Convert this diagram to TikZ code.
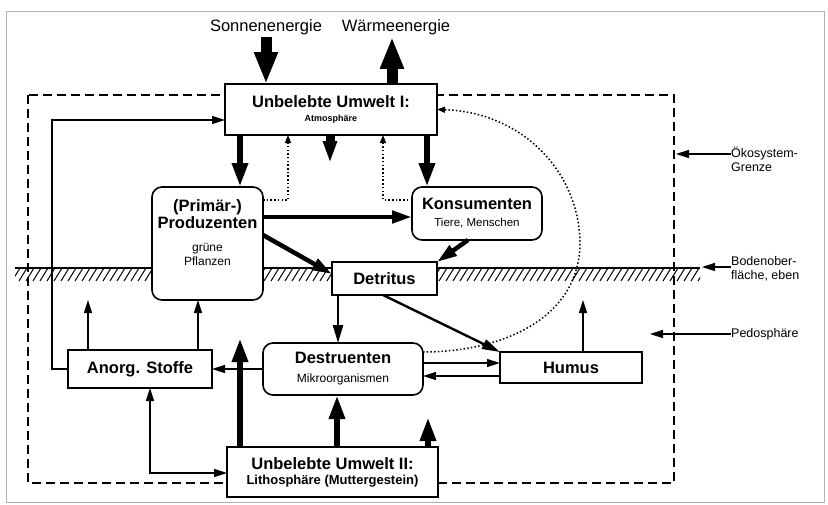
\documentclass[tikz,border=0pt]{standalone}
\usepackage{fontspec}
\setmainfont{Liberation Sans}
\usetikzlibrary{arrows.meta, calc}

\begin{document}
\begin{tikzpicture}[
  x=1pt, y=-1pt,
  box/.style={draw, line width=1.6pt, fill=white, inner sep=0pt, outer sep=0pt,
              align=center, font=\bfseries\fontsize{16.5}{18}\selectfont},
  rbox/.style={box, rounded corners=10pt},
  toplbl/.style={font=\fontsize{16.5}{18}\selectfont, inner sep=2pt},
  side/.style={font=\fontsize{12.5}{14}\selectfont, align=left, inner sep=0pt, anchor=west},
  big/.style={-{Triangle[length=32pt,width=22pt]}, line width=11pt},
  fat/.style={-{Triangle[length=24pt,width=15pt]}, line width=6pt},
  mid/.style={-{Triangle[length=20pt,width=12pt]}, line width=4.5pt},
  slim/.style={-{Triangle[length=18pt,width=10pt]}, line width=2.4pt},
  thin/.style={-{Triangle[length=13pt,width=8pt]}, line width=1.5pt},
  dots/.style={-{Triangle[length=8pt,width=6pt]}, line width=1.5pt,
               dash pattern=on 1.5pt off 2.2pt},
  border/.style={line width=1.8pt, dash pattern=on 9pt off 5pt},
]
\useasboundingbox (0,0) rectangle (828,504);

%% outer frame and ecosystem boundary
\draw[gray!60, line width=1pt] (6,11) rectangle (824,502);
\draw[border] (28,95) rectangle (674,483);

%% soil surface (hatched)
\begin{scope}
  \clip (15,268) rectangle (700,281);
  \foreach \x in {5,12,...,710}
    \draw[line width=1pt] (\x,281) -- (\x+8,268);
\end{scope}
\draw[line width=1.8pt] (15,268) -- (700,268);

%% energy labels
\node[toplbl] (sun)  at (266,27) {Sonnenenergie};
\node[toplbl] (heat) at (396,27) {Wärmeenergie};

%% compartments
\node[box, minimum width=212pt, minimum height=51pt] (atm) at (331,109.5)
  {Unbelebte Umwelt I:\\[-4pt]{\fontsize{9}{10}\selectfont Atmosphäre}};
\node[rbox, minimum width=111pt, minimum height=113pt] (prod) at (207.5,243.5)
  {(Primär-)\\[-1pt]Produzenten\\[5pt]{\mdseries\fontsize{12}{14}\selectfont grüne}\\[-4pt]{\mdseries\fontsize{12}{14}\selectfont Pflanzen}\\[4pt]};
\node[rbox, minimum width=130pt, minimum height=53pt] (kons) at (477,213.5)
  {Konsumenten\\[-1pt]{\mdseries\fontsize{11.5}{13}\selectfont Tiere, Menschen}};
\node[box, minimum width=105pt, minimum height=33pt] (detr) at (384.5,278.5) {Detritus};
\node[rbox, minimum width=160pt, minimum height=52pt] (destr) at (343,369)
  {Destruenten\\[1pt]{\mdseries\fontsize{12}{14}\selectfont Mikroorganismen}};
\node[box, minimum width=142pt, minimum height=31pt] (humus) at (571,367.5) {Humus};
\node[box, minimum width=144pt, minimum height=38pt] (anorg) at (140,369) {Anorg. Stoffe};
\node[box, minimum width=211pt, minimum height=50pt] (litho) at (332.5,472)
  {Unbelebte Umwelt II:\\[-3pt]{\fontsize{13}{15}\selectfont Lithosphäre (Muttergestein)}};

%% side notes
\node[side] (oeko)  at (731,159) {Ökosystem-\\Grenze};
\node[side] (boden) at (731,269) {Bodenober-\\fläche, eben};
\node[side] (pedo)  at (731,334) {Pedosphäre};

%% free ends
\coordinate (atmout)   at (330,163);
\coordinate (anorgup)  at (88,300);
\coordinate (lithoup)  at (240,338);
\coordinate (lithoup2) at (428,417);
\coordinate (humusup)  at (583,300);

%% energy flows
\draw[big] (sun.south) -- (atm.north -| sun.south);
\draw[big] (atm.north -| 392,0) -- (heat.south -| 392,0);

%% atmosphere exchange
\draw[fat] (atm.south -| 240,0) -- (prod.north -| 240,0);
\draw[fat] (atm.south -| 427,0) -- (kons.north -| 427,0);
\draw[-{Triangle[length=22pt,width=13pt]}, line width=9pt] (atm.south -| atmout) -- (atmout);
\draw[dots] (prod.east |- 0,200) -| (atm.south -| 288,0);
\draw[dots] (kons.west |- 0,200) -| (atm.south -| 383,0);

%% food chain
\draw[mid] (prod.east |- 0,217) -- (kons.west |- 0,217);
\draw[mid] (prod.east |- 0,235) -- (detr.west |- 0,274);
\draw[mid] (kons.south -| 468,0) -- (detr.north east);
\draw[slim] (detr.south -| 338,0) -- (destr.north -| 338,0);
\draw[slim] (detr.south -| 383,0) -- (humus.north west);

%% decomposition
\draw[thin] (destr.east |- 0,363) -- (humus.west |- 0,363);
\draw[thin] (humus.west |- 0,376) -- (destr.east |- 0,376);
\draw[thin] (destr.west) -- (anorg.east);
\draw[thin] (humus.north -| humusup) -- (humusup);
\draw[dots] (destr.east |- 0,352) .. controls (500,352) and (578,320) .. (580,245)
  .. controls (580,170) and (520,112) .. (atm.east);

%% inorganic matter
\draw[thin] (anorg.west) -| (52,120) -- (atm.west |- 0,120);
\draw[thin] (anorg.north -| anorgup) -- (anorgup);
\draw[thin] (anorg.north -| 198,0) -- (prod.south -| 198,0);
\draw[{Triangle[length=13pt,width=8pt]}-{Triangle[length=13pt,width=8pt]}, line width=1.5pt]
  (anorg.south -| 150,0) |- (litho.west |- 0,473);

%% lithosphere
\draw[fat] (litho.north -| lithoup) -- (lithoup);
\draw[fat] (litho.north -| 337,0) -- (destr.south -| 337,0);
\draw[fat] (litho.north -| lithoup2) -- (lithoup2);

%% side note arrows
\draw[thin] (oeko.west |- 0,154) -- (676,154);
\draw[thin] (boden.west |- 0,267) -- (702,267);
\draw[thin] (pedo.west) -- (650,334);

\end{tikzpicture}
\end{document}
